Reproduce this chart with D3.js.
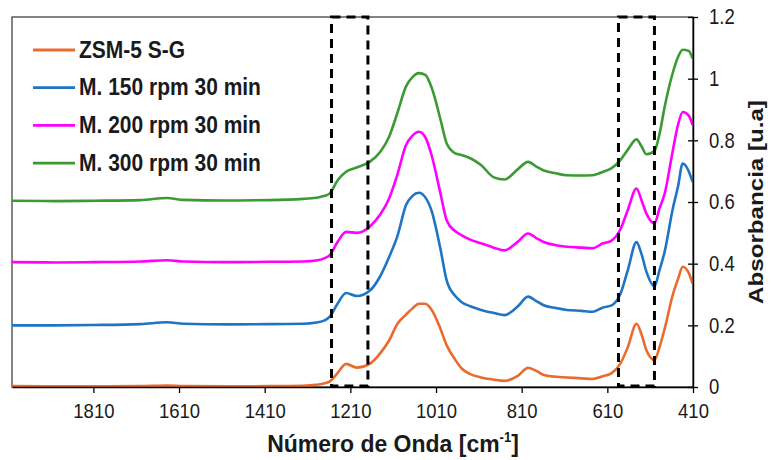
<!DOCTYPE html>
<html>
<head>
<meta charset="utf-8">
<script src="https://cdn.jsdelivr.net/npm/d3@7"></script>
<style>
  body { margin: 0; background: #fff; }
  text { font-family: "Liberation Sans", Arial, sans-serif; fill: #1a1a1a; }
</style>
</head>
<body>
<div id="chart"></div>
<script>
const FRAME_WIDTH = 771;
const FRAME_HEIGHT = 460;
const MARGINS = {left: 12, right: 78, top: 17, bottom: 73};

// wavenumbers (cm-1)
const wavenumbers = [2000, 1900, 1810, 1700, 1638, 1600, 1500, 1400, 1320, 1290, 1270, 1258, 1240, 1220, 1195,
  1165, 1140, 1120, 1100, 1080, 1065, 1050, 1035, 1020, 1000, 985, 965, 950, 930, 905, 875, 850, 820, 795,
  775, 760, 730, 705, 670, 645, 620, 600, 580, 562, 542, 530, 519, 500, 488, 476, 457, 445, 434, 420, 411];

const zsm5 = [0.003, 0.002, 0.002, 0.003, 0.005, 0.003, 0.002, 0.003, 0.004, 0.007, 0.012, 0.018, 0.045, 0.075, 0.063,
  0.075, 0.11, 0.15, 0.205, 0.235, 0.255, 0.27, 0.27, 0.25, 0.19, 0.135, 0.088, 0.06, 0.042, 0.031, 0.024, 0.02, 0.035, 0.062,
  0.052, 0.04, 0.033, 0.031, 0.028, 0.026, 0.035, 0.045, 0.075, 0.13, 0.205, 0.17, 0.12, 0.088, 0.13, 0.19, 0.30, 0.35, 0.39, 0.37, 0.335];

const m150 = [0.2, 0.2, 0.201, 0.204, 0.21, 0.205, 0.203, 0.204, 0.205, 0.209, 0.216, 0.228, 0.27, 0.305, 0.295,
  0.312, 0.36, 0.42, 0.49, 0.59, 0.62, 0.63, 0.615, 0.57, 0.45, 0.345, 0.295, 0.275, 0.262, 0.25, 0.24, 0.233, 0.26, 0.293,
  0.278, 0.266, 0.256, 0.25, 0.247, 0.244, 0.258, 0.265, 0.3, 0.38, 0.47, 0.43, 0.375, 0.327, 0.38, 0.44, 0.58, 0.65, 0.725, 0.7, 0.665];

const m200 = [0.405, 0.404, 0.405, 0.407, 0.411, 0.407, 0.405, 0.406, 0.407, 0.41, 0.418, 0.428, 0.47, 0.503, 0.5,
  0.52, 0.56, 0.61, 0.69, 0.785, 0.815, 0.828, 0.81, 0.75, 0.63, 0.54, 0.505, 0.492, 0.478, 0.466, 0.452, 0.443, 0.47, 0.498,
  0.482, 0.471, 0.46, 0.455, 0.452, 0.45, 0.466, 0.475, 0.51, 0.575, 0.644, 0.605, 0.563, 0.531, 0.58, 0.628, 0.768, 0.85, 0.892, 0.88, 0.85];

const m300 = [0.604, 0.603, 0.604, 0.606, 0.613, 0.607, 0.605, 0.606, 0.61, 0.614, 0.62, 0.628, 0.67, 0.698, 0.712,
  0.73, 0.763, 0.81, 0.89, 0.975, 1.005, 1.018, 1.012, 0.97, 0.87, 0.79, 0.758, 0.752, 0.742, 0.72, 0.68, 0.673, 0.705, 0.73,
  0.714, 0.703, 0.693, 0.687, 0.686, 0.687, 0.698, 0.71, 0.735, 0.77, 0.803, 0.78, 0.755, 0.765, 0.822, 0.91, 1.02, 1.07, 1.094, 1.09, 1.065];

const seriesNames = ["ZSM-5 S-G", "M. 150 rpm 30 min", "M. 200 rpm 30 min", "M. 300 rpm 30 min"];
const seriesColors = ["#EB6A2E", "#1F75C4", "#FF00FF", "#3C9A34"];
const seriesValues = [zsm5, m150, m200, m300];

const xTicks = [1810, 1610, 1410, 1210, 1010, 810, 610, 410];
const yTicks = [0, 0.2, 0.4, 0.6, 0.8, 1, 1.2];
const yTickLabels = ["0", "0.2", "0.4", "0.6", "0.8", "1", "1.2"];

// dashed regions (cm-1)
const boxes = [[1254, 1169], [584, 500]];

const VIS_WIDTH = FRAME_WIDTH - MARGINS.left - MARGINS.right;
const VIS_HEIGHT = FRAME_HEIGHT - MARGINS.top - MARGINS.bottom;

const FRAME = d3.select("#chart")
  .append("svg")
    .attr("width", FRAME_WIDTH)
    .attr("height", FRAME_HEIGHT);

const X_SCALE = d3.scaleLinear()
  .domain([2000, 410])
  .range([MARGINS.left, MARGINS.left + VIS_WIDTH]);

const Y_SCALE = d3.scaleLinear()
  .domain([0, 1.2])
  .range([MARGINS.top + VIS_HEIGHT, MARGINS.top]);

// plot frame
FRAME.append("rect")
  .attr("x", MARGINS.left)
  .attr("y", MARGINS.top)
  .attr("width", VIS_WIDTH)
  .attr("height", VIS_HEIGHT)
  .attr("fill", "none")
  .attr("stroke", "#333")
  .attr("stroke-width", 1.2);

// spectra
const line = d3.line()
  .x((d, i) => X_SCALE(wavenumbers[i]))
  .y(d => Y_SCALE(d))
  .curve(d3.curveMonotoneX);

seriesValues.forEach((vals, k) => {
  FRAME.append("path")
    .datum(vals)
    .attr("d", line)
    .attr("fill", "none")
    .attr("stroke", seriesColors[k])
    .attr("stroke-width", 2.6)
    .attr("stroke-linejoin", "round");
});

// dashed boxes
boxes.forEach(b => {
  FRAME.append("rect")
    .attr("x", X_SCALE(b[0]))
    .attr("y", Y_SCALE(1.2))
    .attr("width", X_SCALE(b[1]) - X_SCALE(b[0]))
    .attr("height", Y_SCALE(0.003) - Y_SCALE(1.2))
    .attr("fill", "none")
    .attr("stroke", "#000")
    .attr("stroke-width", 3)
    .attr("stroke-dasharray", "9,6");
});

// bottom axis
const xAxis = FRAME.append("g")
  .attr("transform", "translate(0," + (MARGINS.top + VIS_HEIGHT) + ")")
  .call(d3.axisBottom(X_SCALE).tickValues(xTicks).tickSize(6).tickSizeOuter(0).tickPadding(9).tickFormat(d3.format("d")));
xAxis.select(".domain").attr("stroke", "#000").attr("stroke-width", 1.5);
xAxis.selectAll(".tick line").attr("stroke", "#000").attr("stroke-width", 1.3);
xAxis.selectAll("text")
  .attr("font-size", "18.5px")
  .attr("fill", "#1a1a1a")
  .attr("transform", "scale(1,1.12)");

// right axis, ticks cross the line
const yAxis = FRAME.append("g")
  .attr("transform", "translate(" + (MARGINS.left + VIS_WIDTH) + ",0)")
  .call(d3.axisRight(Y_SCALE).tickValues(yTicks).tickSize(5).tickSizeOuter(0).tickPadding(11)
    .tickFormat((d, i) => yTickLabels[i]));
yAxis.select(".domain").attr("stroke", "#000").attr("stroke-width", 1.5);
yAxis.selectAll(".tick line").attr("stroke", "#000").attr("stroke-width", 1.3);
yAxis.selectAll(".tick").append("line")
  .attr("x2", -5)
  .attr("stroke", "#000")
  .attr("stroke-width", 1.3);
yAxis.selectAll("text")
  .attr("font-size", "18.5px")
  .attr("fill", "#1a1a1a")
  .attr("transform", "scale(1,1.15)");

// legend
seriesNames.forEach((name, k) => {
  const ly = 50 + k * 37.7;
  FRAME.append("line")
    .attr("x1", 33).attr("x2", 75)
    .attr("y1", ly).attr("y2", ly)
    .attr("stroke", seriesColors[k])
    .attr("stroke-width", 2.8);
  FRAME.append("text")
    .attr("transform", "translate(79," + (ly + 7.5) + ") scale(1,1.13)")
    .attr("font-size", "21px")
    .attr("font-weight", "bold")
    .text(name);
});

// axis titles
const xTitle = FRAME.append("text")
  .attr("transform", "translate(393,452) scale(1,1.08)")
  .attr("text-anchor", "middle")
  .attr("font-size", "23px")
  .attr("font-weight", "bold");
xTitle.append("tspan").text("Número de Onda [cm");
xTitle.append("tspan").attr("font-size", "13px").attr("dy", -9).text("-1");
xTitle.append("tspan").attr("dy", 9).text("]");

FRAME.append("text")
  .attr("transform", "translate(763,202) rotate(-90) scale(1.15,1)")
  .attr("text-anchor", "middle")
  .attr("font-size", "21px")
  .attr("font-weight", "bold")
  .text("Absorbancia [u.a]");
</script>
</body>
</html>
